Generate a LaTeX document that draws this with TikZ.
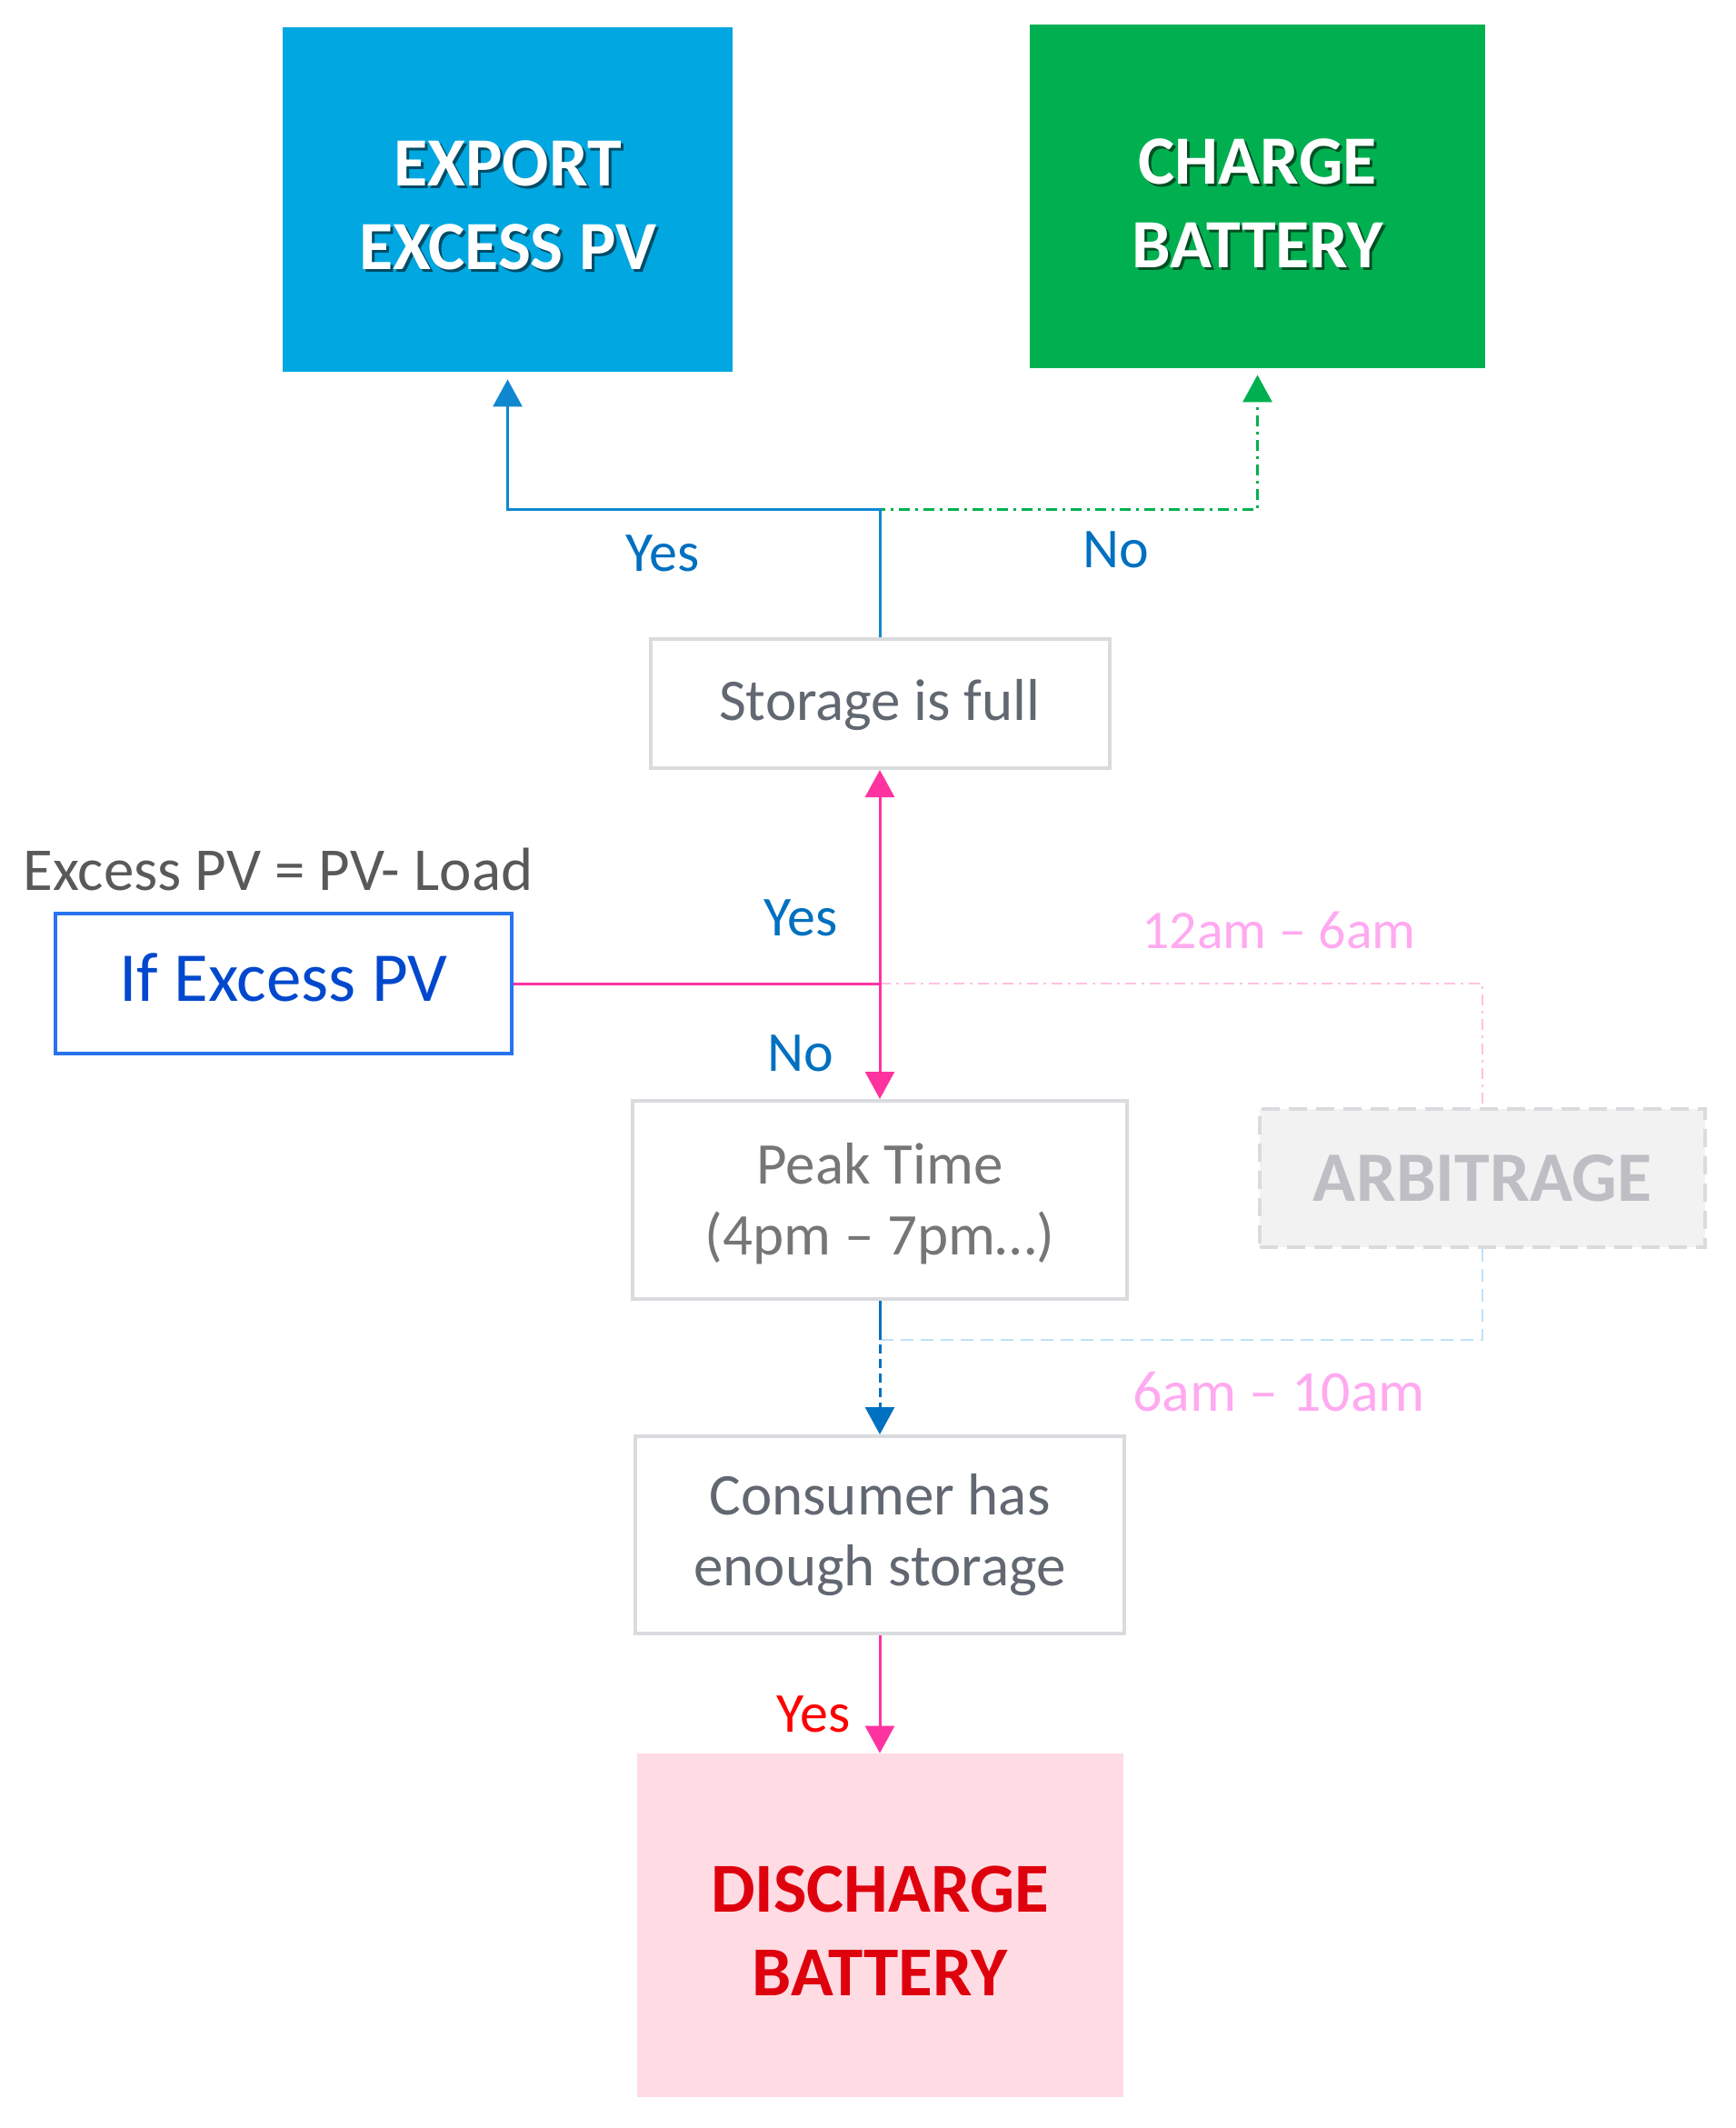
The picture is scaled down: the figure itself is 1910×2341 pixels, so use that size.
\documentclass[tikz,border=0pt]{standalone}
\usepackage{fontspec}
\setmainfont{Carlito}
\usetikzlibrary{arrows.meta}
\definecolor{exportblue}{RGB}{0,167,224}
\definecolor{chargegreen}{RGB}{0,176,80}
\definecolor{dischpink}{RGB}{255,219,228}
\definecolor{dischred}{RGB}{222,0,12}
\definecolor{boxgray}{RGB}{217,219,222}
\definecolor{txtgray}{RGB}{98,104,113}
\definecolor{peakgray}{RGB}{118,118,118}
\definecolor{exgray}{RGB}{89,89,89}
\definecolor{ifblue}{RGB}{40,115,240}
\definecolor{iftext}{RGB}{0,72,205}
\definecolor{lblblue}{RGB}{0,112,192}
\definecolor{topblue}{RGB}{16,136,208}
\definecolor{hotpink}{RGB}{255,51,160}
\definecolor{lightpink}{RGB}{255,192,226}
\definecolor{lightblue}{RGB}{190,226,246}
\definecolor{timepink}{RGB}{255,170,240}
\definecolor{arbfill}{RGB}{242,242,242}
\definecolor{arbtext}{RGB}{190,190,196}
\newcommand{\linew}{1.5pt}
\newcommand{\shadowed}[2]{\rlap{\kern1.5pt\raisebox{-1.5pt}{\textcolor{#1}{#2}}}#2}
\newcommand{\nudge}[2]{\raisebox{#1}[\height][\depth]{#2}}

\tikzset{
  actbox/.style={rectangle, inner sep=0pt, align=center, text=white,
    font=\fontsize{38}{46}\selectfont\bfseries},
  decbox/.style={rectangle, draw=boxgray, line width=2pt, fill=white, inner sep=0pt,
    align=center, text=txtgray, font=\fontsize{32.5}{39}\selectfont},
  lbl/.style={text=lblblue, inner sep=0pt, font=\fontsize{31}{37}\selectfont},
  timelbl/.style={text=timepink, inner sep=0pt},
  tipped/.style={-{Triangle[width=16pt,length=15pt]}},
  dashdotline/.style={dash pattern=on 6pt off 3pt on 1.5pt off 3pt},
}

\begin{document}
\begin{tikzpicture}[x=0.5pt,y=-0.5pt]
\useasboundingbox (0,0) rectangle (1910,2341);
% outcome boxes
\node[actbox, fill=exportblue, minimum width=247.5pt, minimum height=189.5pt] (export) at (558.5,219.5)
  {\nudge{-4pt}{\shadowed{exportblue!45!black}{EXPORT}}\\\nudge{-4pt}{\shadowed{exportblue!45!black}{EXCESS PV}}};
\node[actbox, fill=chargegreen, minimum width=250.5pt, minimum height=189pt] (charge) at (1383.5,216)
  {\nudge{-4.5pt}{\shadowed{chargegreen!45!black}{CHARGE}}\\\nudge{-4.5pt}{\shadowed{chargegreen!45!black}{BATTERY}}};
\node[actbox, fill=dischpink, text=dischred, font=\fontsize{38.6}{46}\selectfont\bfseries,
  minimum width=267.5pt, minimum height=189pt] (disch) at (968,2118) {\nudge{-3pt}{DISCHARGE}\\\nudge{-3pt}{BATTERY}};
% decisions
\node[decbox, minimum width=252.5pt, minimum height=71pt] (store) at (968,774) {\nudge{-1pt}{Storage is full}};
\node[decbox, draw=ifblue, text=iftext, font=\fontsize{38.5}{46}\selectfont,
  minimum width=251pt, minimum height=77pt] (ifpv) at (312,1082) {\nudge{3.5pt}{If Excess PV}};
\node[text=exgray, inner sep=0pt, font=\fontsize{33.5}{40}\selectfont] (pvdef) at (306,956) {Excess PV = PV- Load};
\node[decbox, text=peakgray, minimum width=272pt, minimum height=109pt] (peak) at (968,1320)
  {\nudge{-2pt}{Peak Time}\\\nudge{-2pt}{(4pm – 7pm…)}};
\node[decbox, dash pattern=on 10pt off 5pt, fill=arbfill, text=arbtext, font=\fontsize{39}{46}\selectfont\bfseries,
  minimum width=245pt, minimum height=76pt] (arb) at (1631,1296) {ARBITRAGE};
\node[decbox, minimum width=269pt, minimum height=108.5pt] (consumer) at (968,1688.5) {Consumer has\\enough storage};

\coordinate (topjn) at (968,560);
\coordinate (arbjn) at (968,1474);

% arbitrage links
\draw[lightpink, line width=1pt, dashdotline] (ifpv.east -| store.south) -| (arb.north);
\draw[lightblue, line width=1pt, dash pattern=on 7pt off 4pt] (arb.south) |- (arbjn);
% excess pv test
\draw[hotpink, line width=\linew] (ifpv.east) -- (ifpv.east -| store.south) coordinate (pvjn);
\draw[hotpink, line width=\linew, tipped] (pvjn) -- (store.south);
\draw[hotpink, line width=\linew, tipped] (pvjn) -- (peak.north);
% storage full
\draw[chargegreen, line width=\linew, dashdotline, tipped, shorten >=3.5pt] (store.north) -- (topjn) -| (charge.south);
\draw[topblue, line width=\linew, tipped, shorten >=4pt] (store.north) -- (topjn) -| (export.south);
% peak time
\draw[lblblue, line width=\linew, dash pattern=on 5pt off 3pt, tipped] (peak.south) -- (consumer.north);
\draw[lblblue, line width=\linew] (peak.south) -- (arbjn);
\draw[hotpink, line width=\linew, tipped] (consumer.south) -- (disch.north);

% labels
\node[lbl] (yestop) at (729,609) {Yes};
\node[lbl] (notop) at (1228,605) {No};
\node[lbl] (yesmid) at (881,1010) {Yes};
\node[lbl] (nomid) at (881,1159) {No};
\node[timelbl, font=\fontsize{30}{36}\selectfont] (night) at (1407,1023) {12am – 6am};
\node[timelbl, font=\fontsize{32}{38}\selectfont] (morning) at (1407,1531) {6am – 10am};
\node[lbl, text=red] (yesbot) at (895,1886) {Yes};
\end{tikzpicture}
\end{document}
